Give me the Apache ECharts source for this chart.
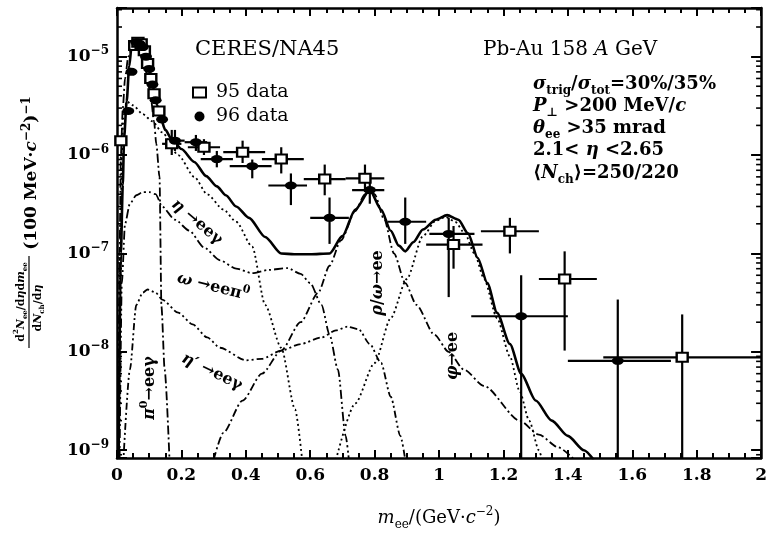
<!DOCTYPE html>
<html><head><meta charset="utf-8">
<script src="https://cdn.jsdelivr.net/npm/echarts@6/dist/echarts.min.js"></script>
<style>html,body{margin:0;padding:0;background:#fff}#c{width:770px;height:538px}</style>
</head><body><div id="c"></div>
<script>
// ---------------- data ----------------
const xTickLabels = ['0','0.2','0.4','0.6','0.8','1','1.2','1.4','1.6','1.8','2'];
const yDecadeExponents = [-9,-8,-7,-6,-5];
const yMin = 8.34e-10, yMax = 3.12e-5;

// [m, value, mLow, mHigh, valueLow, valueHigh]
const data95 = [
  [0.012,1.4e-6,0.012,0.012,1.4e-6,1.4e-6],
  [0.055,1.3e-5,0.055,0.055,1.3e-5,1.3e-5],
  [0.065,1.4e-5,0.065,0.065,1.4e-5,1.4e-5],
  [0.075,1.35e-5,0.075,0.075,1.35e-5,1.35e-5],
  [0.085,1.15e-5,0.085,0.085,1.15e-5,1.15e-5],
  [0.095,8.5e-6,0.095,0.095,8.5e-6,8.5e-6],
  [0.105,6e-6,0.105,0.105,6e-6,6e-6],
  [0.115,4.2e-6,0.115,0.115,4.2e-6,4.2e-6],
  [0.13,2.8e-6,0.13,0.13,2.8e-6,2.8e-6],
  [0.17,1.3e-6,0.14,0.2,1.0e-6,1.8e-6],
  [0.27,1.2e-6,0.22,0.32,1.0e-6,1.45e-6],
  [0.39,1.07e-6,0.33,0.46,8.3e-7,1.4e-6],
  [0.51,9.1e-7,0.45,0.58,6.5e-7,1.2e-6],
  [0.645,5.7e-7,0.58,0.71,3.9e-7,8e-7],
  [0.77,5.8e-7,0.71,0.83,4.2e-7,8e-7],
  [1.045,1.23e-7,0.96,1.135,7e-8,1.9e-7],
  [1.22,1.68e-7,1.13,1.31,1.0e-7,2.3e-7],
  [1.39,5.5e-8,1.31,1.49,1.03e-8,1.05e-7],
  [1.755,8.8e-9,1.51,2.0,1e-10,2.4e-8]
];
const data96 = [
  [0.035,2.8e-6,0.035,0.035,2.8e-6,2.8e-6],
  [0.045,7e-6,0.045,0.045,7e-6,7e-6],
  [0.06,1.4e-5,0.06,0.06,1.4e-5,1.4e-5],
  [0.07,1.35e-5,0.07,0.07,1.35e-5,1.35e-5],
  [0.08,1.25e-5,0.08,0.08,1.25e-5,1.25e-5],
  [0.09,1.0e-5,0.09,0.09,1.0e-5,1.0e-5],
  [0.1,7.5e-6,0.1,0.1,7.5e-6,7.5e-6],
  [0.11,5.2e-6,0.11,0.11,5.2e-6,5.2e-6],
  [0.12,3.6e-6,0.12,0.12,3.6e-6,3.6e-6],
  [0.14,2.3e-6,0.14,0.14,2.3e-6,2.3e-6],
  [0.18,1.4e-6,0.15,0.21,1.1e-6,1.8e-6],
  [0.245,1.35e-6,0.21,0.28,1.1e-6,1.6e-6],
  [0.31,9.1e-7,0.26,0.36,7.5e-7,1.1e-6],
  [0.42,7.7e-7,0.35,0.48,5.8e-7,9e-7],
  [0.54,4.9e-7,0.47,0.59,3.1e-7,6.5e-7],
  [0.66,2.3e-7,0.6,0.72,1.25e-7,3.7e-7],
  [0.785,4.4e-7,0.73,0.83,3.2e-7,6e-7],
  [0.895,2.1e-7,0.84,0.96,1.25e-7,3.7e-7],
  [1.03,1.58e-7,0.97,1.11,3.6e-8,2.3e-7],
  [1.255,2.3e-8,1.10,1.40,1e-10,6e-8],
  [1.555,8.1e-9,1.40,1.72,1e-10,3.4e-8]
];

const totalCurve = [[0.005,9e-10],[0.012,1e-7],[0.018,5e-7],[0.022,1.5e-6],[0.03,3.5e-6],[0.038,8e-6],[0.045,1.25e-5],[0.055,1.4e-5],[0.065,1.38e-5],[0.075,1.3e-5],[0.085,1.15e-5],[0.095,9e-6],[0.105,6.5e-6],[0.115,4.5e-6],[0.125,3.2e-6],[0.135,2.4e-6],[0.15,1.8e-6],[0.17,1.45e-6],[0.2,1.15e-6],[0.24,8.5e-7],[0.277,6.1e-7],[0.31,4.8e-7],[0.338,3.9e-7],[0.37,3e-7],[0.41,2.3e-7],[0.46,1.47e-7],[0.51,1.0e-7],[0.55,9.8e-8],[0.6,9.8e-8],[0.66,1.0e-7],[0.7,1.5e-7],[0.74,2.8e-7],[0.785,4.4e-7],[0.82,2.8e-7],[0.85,1.7e-7],[0.875,1.2e-7],[0.895,1.05e-7],[0.92,1.3e-7],[0.95,1.75e-7],[0.99,2.2e-7],[1.025,2.45e-7],[1.06,2.2e-7],[1.09,1.6e-7],[1.12,9e-8],[1.15,5e-8],[1.18,2.5e-8],[1.22,1.2e-8],[1.255,6e-9],[1.3,3.2e-9],[1.35,2e-9],[1.4,1.4e-9],[1.45,1e-9],[1.48,8e-10]];
const pi0Curve = [[0.004,8e-10],[0.008,1e-7],[0.012,1e-6],[0.018,3e-6],[0.025,6e-6],[0.035,1e-5],[0.045,1.2e-5],[0.055,1.25e-5],[0.065,1.2e-5],[0.075,1.05e-5],[0.085,8.5e-6],[0.095,6e-6],[0.105,3.8e-6],[0.115,2.2e-6],[0.122,1.3e-6],[0.132,6e-7],[0.138,2.9e-8],[0.148,6.6e-9],[0.163,8e-10]];
const etaCurve = [[0.006,8e-10],[0.01,1e-7],[0.015,1e-6],[0.02,2.5e-6],[0.03,3.5e-6],[0.05,3.2e-6],[0.08,2.6e-6],[0.11,2.2e-6],[0.14,1.7e-6],[0.19,1.0e-6],[0.24,6e-7],[0.28,4e-7],[0.33,2.8e-7],[0.37,2.1e-7],[0.42,1.17e-7],[0.46,3e-8],[0.51,1.1e-8],[0.553,2.6e-9],[0.575,8e-10]];
const omegaDalitzCurve = [[0.008,8e-10],[0.015,5e-8],[0.025,2e-7],[0.04,3.2e-7],[0.06,3.9e-7],[0.08,4.2e-7],[0.1,4.2e-7],[0.12,4e-7],[0.14,3e-7],[0.18,2.2e-7],[0.225,1.7e-7],[0.27,1.15e-7],[0.32,8.5e-8],[0.37,7e-8],[0.42,6.3e-8],[0.47,6.8e-8],[0.53,7.1e-8],[0.57,6.2e-8],[0.6,5e-8],[0.635,3e-8],[0.66,1.5e-8],[0.686,6.6e-9],[0.71,1.4e-9],[0.72,8e-10]];
const etaPrimeCurve = [[0.02,8e-10],[0.04,6.6e-9],[0.06,3e-8],[0.08,4e-8],[0.095,4.3e-8],[0.12,4e-8],[0.14,3.4e-8],[0.19,2.5e-8],[0.235,1.9e-8],[0.28,1.4e-8],[0.32,1.1e-8],[0.4,8.2e-9],[0.45,8.5e-9],[0.51,1.03e-8],[0.57,1.2e-8],[0.635,1.4e-8],[0.68,1.65e-8],[0.715,1.8e-8],[0.75,1.7e-8],[0.785,1.2e-8],[0.82,7.7e-9],[0.85,3.5e-9],[0.88,1.4e-9],[0.895,8e-10]];
const rhoOmegaCurve = [[0.3,8e-10],[0.33,1.5e-9],[0.39,3.2e-9],[0.45,6e-9],[0.51,1.03e-8],[0.57,2e-8],[0.625,4e-8],[0.66,7.5e-8],[0.695,1.35e-7],[0.74,2.7e-7],[0.77,4e-7],[0.785,4.4e-7],[0.8,4e-7],[0.83,2.2e-7],[0.86,1e-7],[0.895,5e-8],[0.93,3e-8],[0.985,1.5e-8],[1.03,1e-8],[1.077,6.6e-9],[1.14,4.5e-9],[1.25,2e-9],[1.31,1.44e-9],[1.37,1.07e-9],[1.42,8e-10]];
const phiCurve = [[0.68,8e-10],[0.74,3e-9],[0.8,7.7e-9],[0.85,2.2e-8],[0.9,5.5e-8],[0.95,1.5e-7],[0.99,2.15e-7],[1.02,2.35e-7],[1.05,2.1e-7],[1.08,1.6e-7],[1.11,1.0e-7],[1.14,5.5e-8],[1.18,2.2e-8],[1.22,9e-9],[1.25,4e-9],[1.28,2e-9],[1.31,1e-9],[1.32,8e-10]];

// ---------------- rendering ----------------
const FONT = 'DejaVu Serif';
function richSet(s, bold) {
  const w = bold ? 'bold' : 'normal';
  const H = Math.round(s * 1.6), ss = Math.round(s * 0.68);
  const base = {fontFamily: FONT, fontWeight: w, fill: '#000', color: '#000'};
  return {
    n: Object.assign({}, base, {fontSize: s, lineHeight: H, verticalAlign: 'middle'}),
    i: Object.assign({}, base, {fontSize: s, fontStyle: 'italic', lineHeight: H, verticalAlign: 'middle'}),
    b: Object.assign({}, base, {fontSize: ss, lineHeight: ss, verticalAlign: 'bottom', padding: [0, 0, Math.round(s * 0.12), 0]}),
    p: Object.assign({}, base, {fontSize: ss, lineHeight: ss, verticalAlign: 'top', padding: [Math.round(s * 0.12), 0, 0, 0]})
  };
}
function txt(x, y, text, size, bold, opts) {
  return Object.assign({
    type: 'text', x: x, y: y, z: 100,
    style: {text: text, rich: richSet(size, bold), align: 'left', verticalAlign: 'middle', fill: '#000',
            fontFamily: FONT, fontSize: size, fontWeight: bold ? 'bold' : 'normal'}
  }, opts || {});
}
function rotTxt(x, y, text, size, deg) {
  return {type: 'text', x: x, y: y, z: 100, rotation: deg * Math.PI / 180,
    style: {text: text, rich: richSet(size, true), align: 'center', verticalAlign: 'middle', fill: '#000'}};
}

const chart = echarts.init(document.getElementById('c'), null, {renderer: 'canvas'});

const logMinor = [];
for (let e = -10; e <= -5; e++) for (let k = 2; k <= 9; k++) {
  const v = k * Math.pow(10, e);
  if (v > yMin && v < yMax) logMinor.push([0, v]);
}

function errRender(params, api) {
  const m = api.value(0), v = api.value(1);
  const a = api.coord([api.value(2), v]), b = api.coord([api.value(3), v]);
  const c = api.coord([m, api.value(4)]), d = api.coord([m, api.value(5)]);
  return {type: 'group', children: [
    {type: 'line', shape: {x1: a[0], y1: a[1], x2: b[0], y2: b[1]}, style: {stroke: '#000', lineWidth: 2.2}},
    {type: 'line', shape: {x1: c[0], y1: c[1], x2: d[0], y2: d[1]}, style: {stroke: '#000', lineWidth: 2.2}}
  ]};
}
function minorRender(params, api) {
  const p = api.coord([0, api.value(1)]);
  const cs = params.coordSys;
  return {type: 'group', children: [
    {type: 'line', shape: {x1: cs.x, y1: p[1], x2: cs.x + 5, y2: p[1]}, style: {stroke: '#000', lineWidth: 1.6}},
    {type: 'line', shape: {x1: cs.x + cs.width - 5, y1: p[1], x2: cs.x + cs.width, y2: p[1]}, style: {stroke: '#000', lineWidth: 1.6}}
  ]};
}
function curve(name, data, dash, width) {
  return {type: 'line', name: name, data: data, showSymbol: false, symbol: 'none', smooth: 0.25, smoothMonotone: 'x',
    lineStyle: {color: '#000', width: width || 1.8, type: dash || 'solid'}, z: 3, silent: true};
}

const axisLineStyle = {lineStyle: {color: '#000', width: 2.5}};
const xBase = {type: 'value', min: 0, max: 2, interval: 0.2, axisLine: Object.assign({onZero: false}, axisLineStyle),
  axisTick: {inside: true, length: 8, lineStyle: {color: '#000', width: 2}},
  minorTick: {show: true, splitNumber: 4, length: 5, lineStyle: {color: '#000', width: 2}},
  splitLine: {show: false}};
const yBase = {type: 'log', logBase: 10, min: yMin, max: yMax, axisLine: Object.assign({onZero: false}, axisLineStyle),
  axisTick: {inside: true, length: 10, lineStyle: {color: '#000', width: 2}}, splitLine: {show: false}};

const yLabelRich = richSet(17, true);

chart.setOption({
  animation: false,
  backgroundColor: '#fff',
  grid: {left: 117, right: 3, top: 8, bottom: 67},
  legend: {
    data: ['95 data', '96 data'], orient: 'vertical', left: 187, top: 78, itemGap: 5,
    itemWidth: 13, itemHeight: 10,
    textStyle: {fontFamily: FONT, fontSize: 19, color: '#000', padding: [0, 0, 0, 5]}
  },
  xAxis: [
    Object.assign({}, xBase, {position: 'bottom',
      name: '{i|m}{b|ee}{n|/(GeV·}{i|c}{p|−2}{n|)}', nameLocation: 'middle', nameGap: 46,
      nameTextStyle: {rich: richSet(18, false)},
      axisLabel: {margin: 9, fontFamily: FONT, fontWeight: 'bold', fontSize: 17, color: '#000',
        formatter: function (v) { return xTickLabels[Math.round(v / 0.2)] || ''; }}}),
    Object.assign({}, xBase, {position: 'top', axisLabel: {show: false}})
  ],
  yAxis: [
    Object.assign({}, yBase, {position: 'left',
      axisLabel: {margin: 8, rich: yLabelRich, formatter: function (v) {
        const e = Math.log10(v);
        if (Math.abs(e - Math.round(e)) > 1e-6) return '';
        const ex = Math.round(e);
        if (yDecadeExponents.indexOf(ex) < 0) return '';
        return '{n|10}{p|−' + (-ex) + '}';
      }}}),
    Object.assign({}, yBase, {position: 'right', axisLabel: {show: false}})
  ],
  series: [
    {type: 'custom', name: 'minorTicks', data: logMinor, renderItem: minorRender, clip: false, silent: true, z: 5},
    curve('total', totalCurve, 'solid', 2.6),
    curve('pi0', pi0Curve, [9, 3, 2, 3]),
    curve('eta', etaCurve, [2, 3]),
    curve('omegaDalitz', omegaDalitzCurve, [9, 3, 2, 3, 2, 3]),
    curve('etaPrime', etaPrimeCurve, [2, 3, 2, 3, 7, 3]),
    curve('rhoOmega', rhoOmegaCurve, [8, 3, 2, 3]),
    curve('phi', phiCurve, [2, 3]),
    {type: 'custom', name: 'err95', data: data95, renderItem: errRender, clip: true, silent: true, z: 6,
      encode: {x: [0, 2, 3], y: [1, 4, 5]}},
    {type: 'custom', name: 'err96', data: data96, renderItem: errRender, clip: true, silent: true, z: 6,
      encode: {x: [0, 2, 3], y: [1, 4, 5]}},
    {type: 'scatter', name: '95 data', data: data95, encode: {x: 0, y: 1}, symbol: 'rect', symbolSize: [11, 9], z: 8,
      itemStyle: {color: '#fff', borderColor: '#000', borderWidth: 2.2, opacity: 1}},
    {type: 'scatter', name: '96 data', data: data96, encode: {x: 0, y: 1}, symbol: 'circle', symbolSize: [12, 8], z: 9,
      itemStyle: {color: '#000', borderColor: '#000', borderWidth: 0, opacity: 1}}
  ],
  graphic: [
    txt(195, 50, '{n|CERES/NA45}', 21, false),
    txt(483, 50, '{n|Pb-Au 158 }{i|A}{n| GeV}', 20, false),
    txt(533, 84, '{i|σ}{b|trig}{n|/}{i|σ}{b|tot}{n|=30%/35%}', 18, true),
    txt(533, 106, '{i|P}{b|⊥}{n| >200 MeV/}{i|c}', 18, true),
    txt(533, 128, '{i|θ}{b|ee}{n| >35 mrad}', 18, true),
    txt(533, 150, '{n|2.1< }{i|η}{n| <2.65}', 18, true),
    txt(533, 173, '{n|⟨}{i|N}{b|ch}{n|⟩=250/220}', 18, true),
    // curve labels
    rotTxt(197, 222, '{i|η}{n| →eeγ}', 16, -40),
    rotTxt(213, 287, '{i|ω}{n| →eeπ}{p|0}', 16, -14),
    rotTxt(212, 372, '{i|η′}{n| →eeγ}', 16, -26),
    rotTxt(150, 388, '{i|π}{p|0}{n|→eeγ}', 16, 90),
    rotTxt(378, 283, '{i|ρ}{n|/}{i|ω}{n|→ee}', 16, 90),
    rotTxt(453, 356, '{i|φ}{n|→ee}', 16, 90),
    // y-axis title
    {type: 'group', x: 32, y: 220, rotation: Math.PI / 2, z: 100, children: [
      {type: 'text', x: -82, y: -11, style: {text: '{n|d}{p|2}{i|N}{b|ee}{n|/d}{i|η}{n|d}{i|m}{b|ee}', rich: richSet(11, true), align: 'center', verticalAlign: 'middle'}},
      {type: 'line', shape: {x1: -128, y1: -3, x2: -36, y2: -3}, style: {stroke: '#000', lineWidth: 1.2}},
      {type: 'text', x: -88, y: 6, style: {text: '{n|d}{i|N}{b|ch}{n|/d}{i|η}', rich: richSet(11, true), align: 'center', verticalAlign: 'middle'}},
      {type: 'text', x: 47, y: 0, style: {text: '{n|(100 MeV·}{i|c}{p|−2}{n|)}{p|−1}', rich: richSet(17, true), align: 'center', verticalAlign: 'middle'}}
    ]}
  ]
});
</script>
</body></html>
